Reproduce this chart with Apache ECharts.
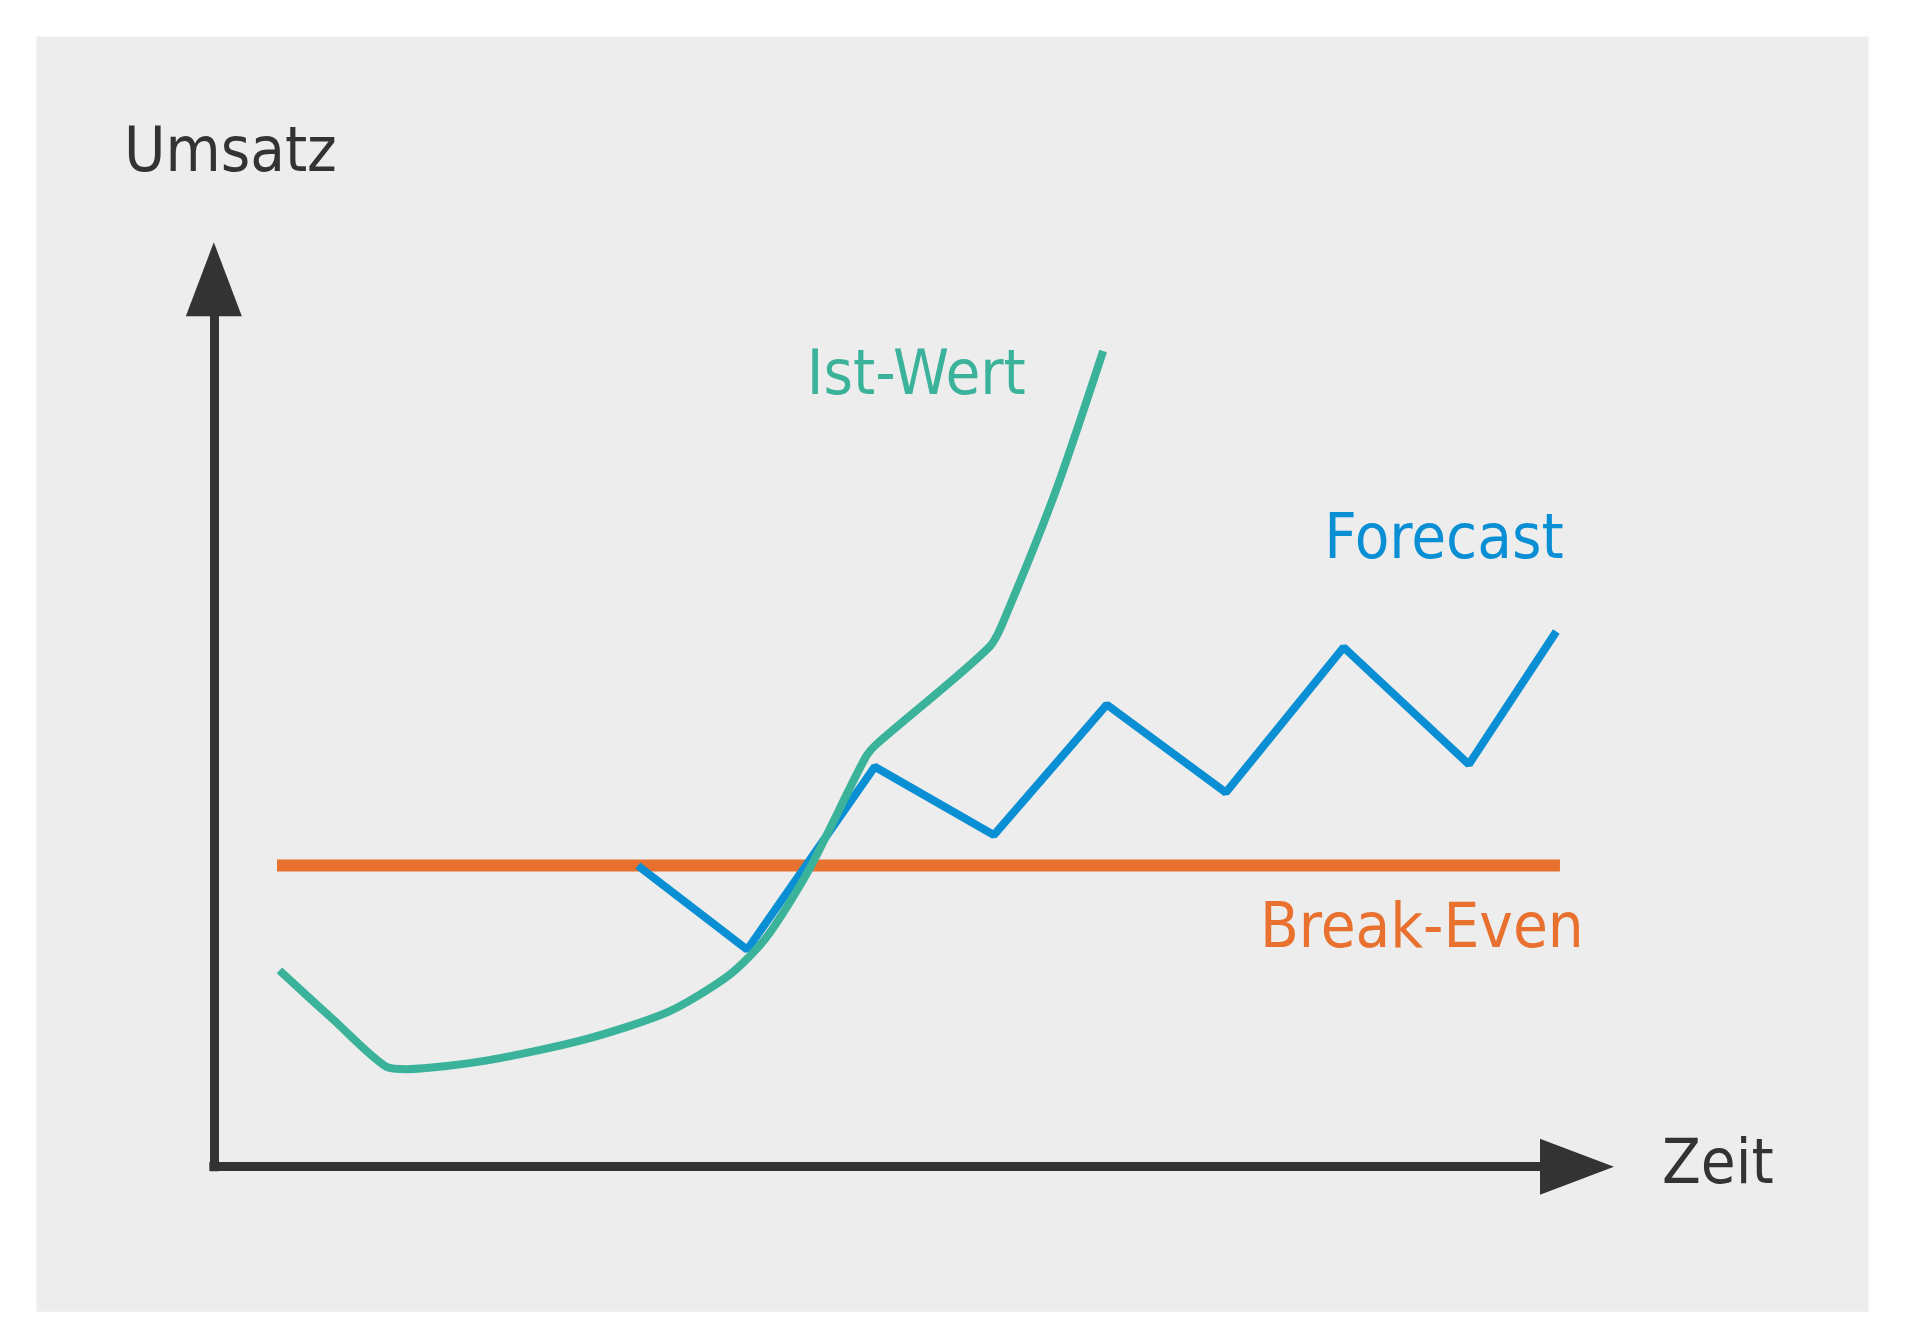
<!DOCTYPE html>
<html>
<head>
<meta charset="utf-8">
<script src="https://cdn.jsdelivr.net/npm/echarts@6/dist/echarts.min.js"></script>
<style>html,body{margin:0;padding:0;background:#fff}#c{width:1905px;height:1341px}</style>
</head>
<body>
<div id="c"></div>
<script>
// data in reference image units (1568 x 1100)
const istWert = [[230,796],[275,837],[318,875],[335,877],[400,870],[480,853],[550,830],[600,800],[630,770],[665,715],[712,622],[722,610],[815,530],[830,500],[870,400],[908,288]];
const forecast = [[525,710],[615,779],[720,629],[818,685],[911,578],[1009,650],[1106,531],[1209,627],[1281,518]];
const breakEven = [[228,710],[1284,710]];
const labels = [
  { text: "Umsatz", x: 102, y: 127, color: "#333333" },
  { text: "Ist-Wert", x: 664, y: 310, color: "#3ab39a" },
  { text: "Forecast", x: 1090, y: 444, color: "#0a8fd4" },
  { text: "Break-Even", x: 1037, y: 763, color: "#e8712f" },
  { text: "Zeit", x: 1368, y: 957, color: "#333333" }
];

const W = 1568, H = 1100, sx = 1905 / W, sy = 1341 / H;
const chart = echarts.init(document.getElementById("c"));
const font = "'DejaVu Sans Condensed', 'DejaVu Sans', sans-serif";

chart.setOption({
  animation: false,
  backgroundColor: "#ffffff",
  grid: { left: 0, top: 0, width: 1905, height: 1341 },
  xAxis: { type: "value", min: 0, max: W, show: false },
  yAxis: { type: "value", min: 0, max: H, inverse: true, show: false },
  graphic: [
    { type: "rect", z: -10, shape: { x: 30 * sx, y: 30 * sy, width: 1508 * sx, height: 1046 * sy }, style: { fill: "#ededed" } }
  ].concat(labels.map(l => ({
    type: "text", x: l.x * sx, y: l.y * sy,
    style: { text: l.text, fill: l.color, font: "63px " + font, textVerticalAlign: "middle" }
  }))),
  series: [
    {
      type: "line", data: [], silent: true,
      markLine: {
        silent: true, symbol: ["none", "triangle"], symbolSize: [56, 74],
        lineStyle: { color: "#333333", width: 9, type: "solid", cap: "square" }, label: { show: false },
        data: [
          [{ coord: [176, 957] }, { coord: [176, 229] }],
          [{ coord: [176, 957] }, { coord: [1298, 957] }]
        ]
      }
    },
    { name: "Break-Even", type: "line", data: breakEven, showSymbol: false, lineStyle: { color: "#e8712f", width: 12 } },
    { name: "Forecast", type: "line", data: forecast, showSymbol: false, lineStyle: { color: "#0a8fd4", width: 8 } },
    { name: "Ist-Wert", type: "line", data: istWert, showSymbol: false, smooth: 0.25, lineStyle: { color: "#3ab39a", width: 8 } }
  ]
});
</script>
</body>
</html>
